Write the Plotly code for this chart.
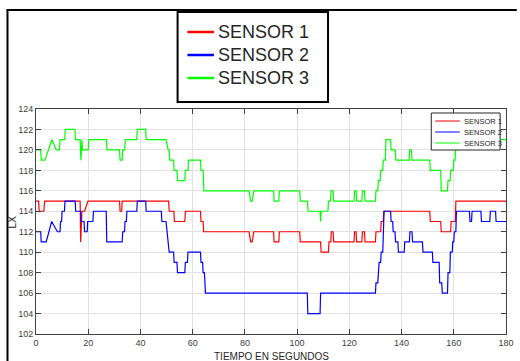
import plotly.graph_objects as go

# Illuminance readings (lux) of three sensors over time (seconds)
S1_T = [0, 1, 1.2, 3, 3.3, 16.9, 17.1, 17.6, 18.6, 19.9, 32, 32.2, 32.8, 33, 50.8, 51, 52.8, 53, 57, 57.2,
        63, 63.2, 64, 64.2, 81.6, 82.2, 82.8, 83.4, 91, 91.2, 93, 93.2, 101, 101.2, 109, 109.2, 112, 112.2,
        112.9, 113.1, 113.8, 114, 121.8, 122, 122.6, 122.8, 124.8, 125, 125.8, 126, 130, 130.2, 132, 132.2,
        133, 133.2, 150.8, 151, 155, 155.2, 158.8, 159, 160.6, 160.8, 180]
S1_LX = [115, 115, 114, 114, 115, 115, 111, 114, 114, 115, 115, 114, 114, 115, 115, 114, 114, 113, 113, 114,
         114, 113, 113, 112, 112, 111, 111, 112, 112, 111, 111, 112, 112, 111, 111, 110, 110, 111,
         111, 112, 112, 111, 111, 112, 112, 111, 111, 112, 112, 111, 111, 112, 112, 113,
         113, 114, 114, 113, 113, 112, 112, 113, 113, 115, 115]

S2_T = [0, 1.8, 2, 3.9, 6, 8.2, 9.2, 9.4, 9.8, 10, 10.9, 11.1, 15, 15.2, 17.1, 17.3, 18.4, 18.6, 19.6, 19.8,
        21.8, 22, 26.9, 27.1, 33, 33.2, 33.9, 34.1, 34.6, 34.8, 38.6, 38.8, 42, 42.2, 48, 48.2, 49.8, 51,
        52.7, 52.9, 54, 54.2, 57, 57.2, 58, 58.2, 63, 63.2, 63.8, 64, 64.5, 64.7, 64.9, 103.9, 104.1, 108.8,
        109, 130, 130.2, 130.9, 131.1, 131.4, 132, 132.2, 132.8, 133, 133.3, 135.8, 136, 136.6, 136.8, 137.5,
        137.7, 138.6, 138.8, 141, 141.2, 143, 143.2, 144, 144.2, 148, 148.2, 151.8, 152, 154.4, 154.6, 155.4,
        155.6, 157.6, 157.8, 158.5, 158.7, 159.4, 159.6, 160, 160.2, 160.8, 161, 166, 166.2, 166.8, 167,
        170.4, 170.6, 173.8, 174, 176, 176.2, 180]
S2_LX = [112, 112, 111, 111, 113, 112, 112, 113, 113, 114, 114, 115, 115, 114, 114, 113, 113, 112, 112, 113,
         113, 114, 114, 111, 111, 112, 112, 113, 113, 114, 114, 115, 115, 114, 114, 113, 113, 110,
         110, 109, 109, 108, 108, 109, 109, 110, 110, 109, 109, 108, 108, 107, 106, 106, 104, 104,
         106, 106, 107, 107, 108, 109, 109, 110, 110, 113, 114, 114, 113, 113, 112, 112,
         111, 111, 110, 110, 111, 111, 112, 112, 111, 111, 110, 110, 109, 109, 107, 107,
         106, 106, 108, 108, 110, 110, 111, 111, 112, 112, 114, 114, 113, 113, 114,
         114, 113, 113, 114, 114, 113, 113]

S3_T = [0, 1.8, 2, 3.4, 6.1, 7.8, 9, 9.2, 11, 11.2, 14.9, 15.1, 16.9, 17.2, 17.6, 17.8, 20, 20.2, 27, 27.2,
        32, 32.2, 33, 33.2, 34, 34.2, 38.6, 38.8, 42, 42.2, 49.8, 50.6, 51, 51.2, 52.7, 52.9, 54, 54.2, 57,
        57.2, 58.2, 58.4, 63, 63.2, 64, 64.3, 81.6, 82.2, 82.8, 83.4, 91, 91.2, 93, 93.2, 101, 101.2, 104,
        104.2, 108.8, 109, 109.2, 111.8, 112, 112.8, 113, 113.8, 114, 121.8, 122, 122.6, 122.8, 124.8, 125,
        125.8, 126, 130, 130.2, 130.9, 131.1, 131.8, 132, 132.8, 133, 133.8, 134, 135.8, 136, 137.6, 137.8,
        142.9, 143.1, 143.8, 144, 150.8, 151, 155, 155.2, 157.6, 157.8, 158.6, 158.8, 159.8, 160, 160.5,
        160.7, 161, 161.2, 180]
S3_LX = [120, 120, 119, 119, 121, 120, 120, 121, 121, 122, 122, 121, 121, 119, 121, 120, 120, 121, 121, 120,
         120, 119, 119, 120, 120, 121, 121, 122, 122, 121, 121, 120, 120, 119, 119, 118, 118, 117, 117,
         118, 118, 119, 119, 118, 118, 116, 116, 115, 115, 116, 116, 115, 115, 116, 116, 115, 115,
         114, 114, 113, 114, 114, 115, 115, 116, 116, 115, 115, 116, 116, 115, 115, 116,
         116, 115, 115, 116, 116, 117, 117, 118, 118, 119, 119, 121, 121, 120, 120, 119,
         119, 120, 120, 119, 119, 118, 118, 116, 116, 117, 117, 118, 118, 119, 119,
         120, 120, 121, 121]

SERIES = [("SENSOR 1", S1_T, S1_LX, "#ff0000"),
          ("SENSOR 2", S2_T, S2_LX, "#0000ff"),
          ("SENSOR 3", S3_T, S3_LX, "#00ff00")]

X_TICKS = list(range(0, 181, 20))
Y_TICKS = list(range(102, 125, 2))
X_TITLE = "TIEMPO EN SEGUNDOS"
Y_TITLE = "LX"

for _, t, v, _ in SERIES:
    assert len(t) == len(v)

# canvas and plot-area geometry (pixels)
W, H = 520, 361
ML, MR, MT, MB = 36, 6, 109, 27
PW, PH = W - ML - MR, H - MT - MB


def px_x(p):
    return (p - ML) / PW


def px_y(p):
    return (H - MB - p) / PH


FONT = "Liberation Sans, Arial, Helvetica, sans-serif"
AXIS_GRAY = "#404040"
TEXT = "#262626"

fig = go.Figure()

for name, t, v, color in SERIES:
    fig.add_trace(go.Scatter(x=t, y=v, mode="lines", name=name,
                             line=dict(color=color, width=1.2),
                             showlegend=False, hoverinfo="x+y+name"))

axis_common = dict(
    showgrid=True, gridcolor="#e2e2e2", gridwidth=1,
    showline=True, linecolor=AXIS_GRAY, linewidth=1, mirror="ticks",
    ticks="inside", ticklen=5, tickcolor=AXIS_GRAY, tickwidth=1,
    tickfont=dict(family=FONT, size=9, color=AXIS_GRAY),
    ticklabeloverflow="allow",
    zeroline=False, fixedrange=True,
)

shapes = [
    # outer frame edges
    dict(type="line", xref="paper", yref="paper", x0=px_x(7), x1=px_x(7), y0=px_y(10), y1=px_y(H + 5),
         line=dict(color="black", width=2)),
    dict(type="line", xref="paper", yref="paper", x0=px_x(6), x1=px_x(W + 5), y0=px_y(10), y1=px_y(10),
         line=dict(color="black", width=2)),
]
annotations = [
    dict(xref="paper", yref="paper", x=0.5, y=px_y(356), text=X_TITLE, showarrow=False,
         xanchor="center", yanchor="middle", font=dict(family=FONT, size=10, color=TEXT)),
    dict(xref="paper", yref="paper", x=px_x(12.5), y=0.5, text=Y_TITLE, showarrow=False, textangle=-90,
         xanchor="center", yanchor="middle", font=dict(family=FONT, size=10, color=TEXT)),
]


def add_legend(box, line_x, text_x, rows, font_size, line_w, border_w):
    x0, x1, y0, y1 = box
    shapes.append(dict(type="rect", xref="paper", yref="paper",
                       x0=px_x(x0), x1=px_x(x1), y0=px_y(y0), y1=px_y(y1),
                       fillcolor="white", line=dict(color="black" if border_w > 1 else TEXT, width=border_w),
                       layer="above"))
    for (name, _, _, color), yy in zip(SERIES, rows):
        shapes.append(dict(type="line", xref="paper", yref="paper",
                           x0=px_x(line_x[0]), x1=px_x(line_x[1]), y0=px_y(yy), y1=px_y(yy),
                           line=dict(color=color, width=line_w), layer="above"))
        annotations.append(dict(xref="paper", yref="paper", x=px_x(text_x), y=px_y(yy), text=name,
                                showarrow=False, xanchor="left", yanchor="middle",
                                font=dict(family=FONT, size=font_size, color=TEXT)))


# large legend above the axes
add_legend((180, 333, 12, 102), (190, 217), 219, (32, 55, 78), 18, 2.5, 2)
# small legend in the upper-right corner of the axes
add_legend((438, 508, 113, 150), (442, 467), 469, (121, 132, 143), 7.5, 1, 1)

fig.update_layout(
    width=W, height=H,
    margin=dict(l=ML, r=MR, t=MT, b=MB, pad=0),
    paper_bgcolor="white", plot_bgcolor="white",
    font=dict(family=FONT, color=TEXT),
    xaxis=dict(range=[0, 180], tickvals=X_TICKS, **axis_common),
    yaxis=dict(range=[102, 124], tickvals=Y_TICKS, **axis_common),
    shapes=shapes,
    annotations=annotations,
    showlegend=False,
)

fig.write_html("out.html", config={"displayModeBar": False})
